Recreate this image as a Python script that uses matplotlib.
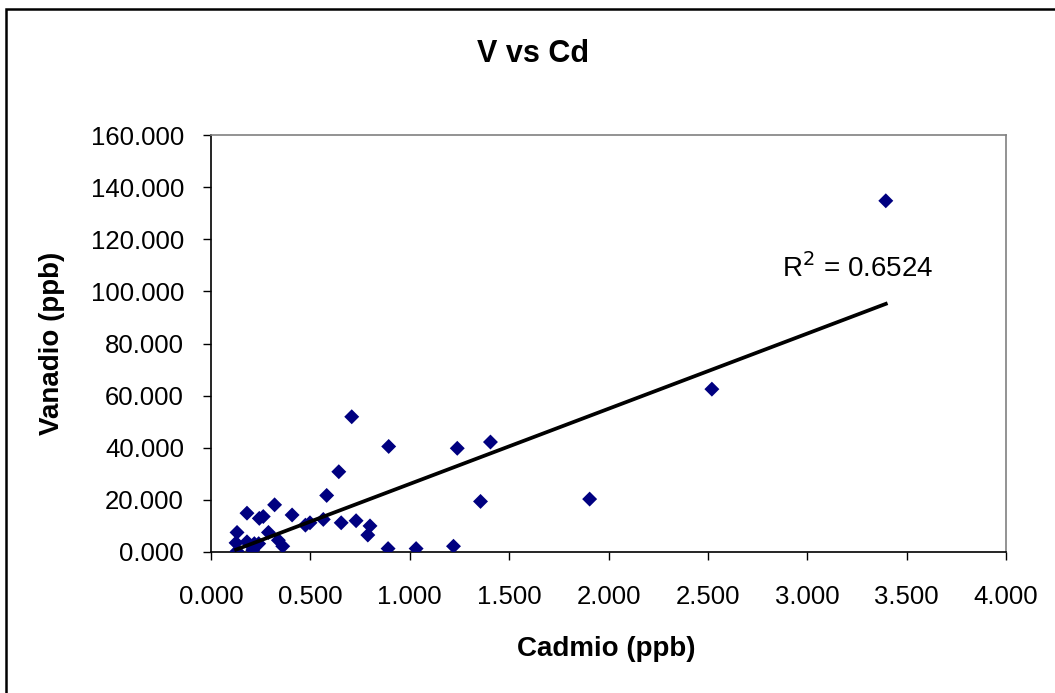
import numpy as np
import matplotlib.pyplot as plt
from matplotlib.patches import Rectangle

plt.rcParams['font.family'] = ['Liberation Sans', 'DejaVu Sans']

# Cadmio (ppb) vs Vanadio (ppb)
cadmio = [0.131, 0.126, 0.131, 0.181, 0.181, 0.210, 0.218, 0.240, 0.243, 0.263,
          0.289, 0.320, 0.339, 0.361, 0.408, 0.475, 0.498, 0.565, 0.582, 0.643,
          0.655, 0.708, 0.730, 0.789, 0.800, 0.891, 0.894, 1.032, 1.220, 1.239,
          1.356, 1.406, 1.905, 2.520, 3.395]
vanadio = [7.5, 3.5, 0.3, 14.9, 3.9, 0.7, 3.2, 3.2, 12.9, 13.6,
           7.5, 18.1, 4.5, 2.2, 14.2, 10.3, 11.2, 12.5, 21.7, 30.8,
           11.2, 51.9, 12.0, 6.5, 10.0, 1.3, 40.5, 1.3, 2.2, 39.8,
           19.4, 42.2, 20.3, 62.5, 134.8]
x_ticks = [0, 0.5, 1.0, 1.5, 2.0, 2.5, 3.0, 3.5, 4.0]
y_ticks = [0, 20, 40, 60, 80, 100, 120, 140, 160]

x = np.array(cadmio)
y = np.array(vanadio)
slope, icpt = np.polyfit(x, y, 1)

fig = plt.figure(figsize=(10.55, 6.93), dpi=100)
ax = fig.add_axes([0.200, 0.2035, 0.7536, 0.6015])

ax.scatter(x, y, marker='D', s=58, color='#000080', edgecolors='none', zorder=3)
xl = np.array([x.min(), x.max()])
ax.plot(xl, slope * xl + icpt, color='black', lw=2.7, zorder=4)
ax.text(2.871, 105.7, r'R$^2$ = 0.6524', fontsize=20, ha='left', va='baseline')

ax.set_xlim(0, 4)
ax.set_ylim(0, 160)
ax.set_xticks(x_ticks)
ax.set_yticks(y_ticks)
ax.set_xticklabels([f'{v:.3f}' for v in x_ticks], fontsize=18.5)
ax.set_yticklabels([f'{v:.3f}' for v in y_ticks], fontsize=18.5)
ax.tick_params(direction='out', length=5.5, width=1)
ax.tick_params(axis='y', pad=14)
ax.tick_params(axis='x', pad=18)

for s in ['top', 'right']:
    ax.spines[s].set_color('#808080')
    ax.spines[s].set_linewidth(1.2)
for s in ['left', 'bottom']:
    ax.spines[s].set_color('black')
    ax.spines[s].set_linewidth(1.2)

fig.text(0.505, 0.922, 'V vs Cd', fontsize=22, fontweight='bold', ha='center', va='center')
ax.set_xlabel('Cadmio (ppb)', fontsize=20, fontweight='bold', va='center')
ax.xaxis.set_label_coords(0.497, -0.232)
ax.set_ylabel('Vanadio (ppb)', fontsize=20, fontweight='bold', va='center')
ax.yaxis.set_label_coords(-0.200, 0.5)

# outer chart border (runs off the right and bottom edges)
fig.patches.append(Rectangle((0.0057, -0.02), 1.0, 1.007, transform=fig.transFigure,
                             fill=False, edgecolor='black', lw=1.8))

fig.savefig('out.png', dpi=100)
